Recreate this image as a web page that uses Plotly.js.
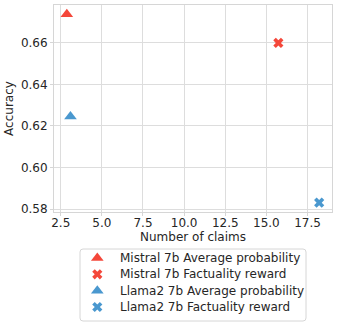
<!DOCTYPE html>
<html>
<head>
<meta charset="utf-8">
<script src="https://cdn.plot.ly/plotly-3.0.1.min.js"></script>
<style>html,body{margin:0;padding:0;background:#fff;}#chart{width:337px;height:327px;}</style>
</head>
<body>
<div id="chart"></div>
<script>
const seriesNames = ["Mistral 7b Average probability", "Mistral 7b Factuality reward", "Llama2 7b Average probability", "Llama2 7b Factuality reward"];
const numClaims = [2.87, 15.73, 3.09, 18.21];
const accuracy = [0.6736, 0.6599, 0.6245, 0.5832];
const colors = ["#f4473a", "#f4473a", "#4a98cf", "#4a98cf"];
const symbols = ["triangle-up", "x", "triangle-up", "x"];
const xTicks = [2.5, 5.0, 7.5, 10.0, 12.5, 15.0, 17.5];
const yTicks = [0.58, 0.60, 0.62, 0.64, 0.66];

const W = 337, H = 327;
const M = {l: 54, r: 5, t: 5, b: 115};
const pw = W - M.l - M.r, ph = H - M.t - M.b;
const px = v => (v - M.l) / pw;          // pixel -> paper x
const py = v => (H - M.b - v) / ph;      // pixel -> paper y

const TRI = 11, XS = 9;
function markerFor(i) {
  return symbols[i] === "x"
    ? {symbol: "x", size: XS, color: colors[i], line: {width: 0}}
    : {symbol: "triangle-up", size: TRI, color: colors[i], line: {width: 0}};
}

const traces = seriesNames.map((name, i) => ({
  type: "scatter", mode: "markers", name: name,
  x: [numClaims[i]], y: [accuracy[i]],
  marker: markerFor(i), showlegend: false
}));

// symbol outlines (same geometry as Plotly's marker symbols), in pixel offsets
function symbolPath(kind, cx, cy) {
  let pts;
  if (kind === "x") {
    const r = XS / 2, a = Math.round(r * 0.8 / Math.SQRT2 * 100) / 100;
    const steps = [[a,a],[a,-a],[-a,-a],[a,-a],[-a,-a],[-a,a],[-a,-a],[-a,a],[a,a],[-a,a],[a,a]];
    let x = 0, y = a; pts = [[x, y]];
    steps.forEach(s => { x += s[0]; y += s[1]; pts.push([x, y]); });
  } else {
    const r = TRI / 2, rt = r * 2 / Math.sqrt(3), r2 = r / 2;
    pts = [[-rt, r2], [rt, r2], [0, -r]];
  }
  return pts.map((p, k) => (k ? "L " : "M ") + px(cx + p[0]) + "," + py(cy + p[1])).join(" ") + " Z";
}

// custom legend (matplotlib-like spacing)
const legTop = 249, legBot = 321, legLeft = 80, legRight = 306;
const rowY = [258, 274.3, 290.7, 307];
const symX = 97.3, textX = 118;

const font = {family: "DejaVu Sans, sans-serif", size: 12, color: "#262626"};
const annotations = seriesNames.map((name, i) => ({
  xref: "paper", yref: "paper", x: px(textX), y: py(rowY[i]),
  xanchor: "left", yanchor: "middle", text: name, showarrow: false,
  font: font
}));

const r = 3;
const x0 = px(legLeft), x1 = px(legRight), y0 = py(legBot), y1 = py(legTop);
const rx = r / pw, ry = r / ph;
const boxPath = `M ${x0 + rx},${y1} L ${x1 - rx},${y1} Q ${x1},${y1} ${x1},${y1 - ry} ` +
  `L ${x1},${y0 + ry} Q ${x1},${y0} ${x1 - rx},${y0} L ${x0 + rx},${y0} Q ${x0},${y0} ${x0},${y0 + ry} ` +
  `L ${x0},${y1 - ry} Q ${x0},${y1} ${x0 + rx},${y1} Z`;

const shapes = [{type: "path", xref: "paper", yref: "paper", path: boxPath,
                 line: {color: "#d6d6d6", width: 1}, fillcolor: "rgba(0,0,0,0)", layer: "above"}];
seriesNames.forEach((name, i) => {
  shapes.push({type: "path", xref: "paper", yref: "paper", path: symbolPath(symbols[i], symX, rowY[i]),
               line: {width: 0}, fillcolor: colors[i], layer: "above"});
});

Plotly.newPlot("chart", traces, {
  width: W, height: H,
  margin: M,
  paper_bgcolor: "#fff", plot_bgcolor: "#fff",
  font: font,
  showlegend: false,
  xaxis: {
    range: [2.09, 18.99], tickvals: xTicks, ticktext: xTicks.map(v => v.toFixed(1)),
    showgrid: true, gridcolor: "#dddddd", gridwidth: 1,
    showline: true, linecolor: "#d6d6d6", linewidth: 1, mirror: true,
    ticks: "outside", ticklen: 3, tickcolor: "#d6d6d6", zeroline: false,
    tickfont: font, automargin: false, ticklabelstandoff: -3,
    title: {text: "Number of claims", font: font, standoff: 2}
  },
  yaxis: {
    range: [0.5787, 0.6781], tickvals: yTicks, ticktext: yTicks.map(v => v.toFixed(2)),
    showgrid: true, gridcolor: "#dddddd", gridwidth: 1,
    showline: true, linecolor: "#d6d6d6", linewidth: 1, mirror: true,
    ticks: "outside", ticklen: 3, tickcolor: "#d6d6d6", zeroline: false,
    tickfont: font, automargin: false,
    title: {text: "Accuracy", font: font, standoff: 4}
  },
  shapes: shapes,
  annotations: annotations
}, {displayModeBar: false, staticPlot: true});
</script>
</body>
</html>
